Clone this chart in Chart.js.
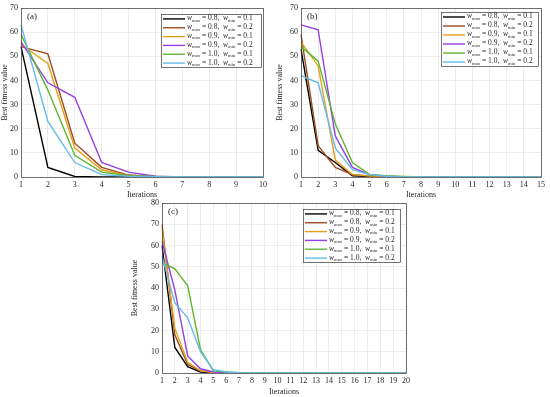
<!DOCTYPE html>
<html><head><meta charset="utf-8">
<script src="https://cdn.jsdelivr.net/npm/chart.js@4.4.0/dist/chart.umd.min.js"></script>
<style>
html,body{margin:0;padding:0;background:#fff;width:550px;height:397px;overflow:hidden}
.p{position:absolute}
canvas{display:block}
</style></head><body>
<div class="p" style="left:0;top:0"><canvas id="ca" width="275" height="200"></canvas></div>
<div class="p" style="left:275px;top:0"><canvas id="cb" width="275" height="200"></canvas></div>
<div class="p" style="left:130px;top:195px"><canvas id="cc" width="290" height="202"></canvas></div>
<script>
// ---- data ----
const wMax = [0.8, 0.8, 0.9, 0.9, 1.0, 1.0];
const wMin = [0.1, 0.2, 0.1, 0.2, 0.1, 0.2];
const seriesColors = ['#000000', '#9C4A1E', '#E3A11B', '#9440E4', '#5DB530', '#66B9EA'];

const iterA = ['1','2','3','4','5','6','7','8','9','10'];
const iterB = ['1','2','3','4','5','6','7','8','9','10','11','12','13','14','15'];
const iterC = ['1','2','3','4','5','6','7','8','9','10','11','12','13','14','15','16','17','18','19','20'];

const yTicksAB = [0, 10, 20, 30, 40, 50, 60, 70];
const yTicksC = [0, 10, 20, 30, 40, 50, 60, 70, 80];

// (a)
const a_08_01 = [54, 4, 0.2, 0, 0, 0, 0, 0, 0, 0];
const a_08_02 = [54, 51, 14, 4, 0.8, 0.2, 0, 0, 0, 0];
const a_09_01 = [55, 47, 12, 3, 0.5, 0.1, 0, 0, 0, 0];
const a_09_02 = [56, 39, 33, 6, 2, 0.3, 0, 0, 0, 0];
const a_10_01 = [59, 36, 9, 2, 0.5, 0.2, 0, 0, 0, 0];
const a_10_02 = [63, 23, 6, 1, 0.3, 0.1, 0, 0, 0, 0];
// (b)
const b_08_01 = [53, 11, 6, 0.5, 0.2, 0, 0, 0, 0, 0, 0, 0, 0, 0, 0];
const b_08_02 = [59, 13, 4, 1, 0.3, 0.1, 0, 0, 0, 0, 0, 0, 0, 0, 0];
const b_09_01 = [56, 46, 7, 1, 0.5, 0.2, 0, 0, 0, 0, 0, 0, 0, 0, 0];
const b_09_02 = [63, 61, 17, 4, 1, 0.3, 0, 0, 0, 0, 0, 0, 0, 0, 0];
const b_10_01 = [54, 48, 22, 6, 1, 0.5, 0.2, 0, 0, 0, 0, 0, 0, 0, 0];
const b_10_02 = [42, 39, 12, 3, 1, 0.3, 0, 0, 0, 0, 0, 0, 0, 0, 0];
// (c)
const c_08_01 = [60, 12, 3, 0.5, 0.1, 0, 0, 0, 0, 0, 0, 0, 0, 0, 0, 0, 0, 0, 0, 0];
const c_08_02 = [70, 18, 4, 1, 0.2, 0, 0, 0, 0, 0, 0, 0, 0, 0, 0, 0, 0, 0, 0, 0];
const c_09_01 = [68, 21, 5, 1, 0.3, 0, 0, 0, 0, 0, 0, 0, 0, 0, 0, 0, 0, 0, 0, 0];
const c_09_02 = [62, 39, 8, 2, 0.5, 0.1, 0, 0, 0, 0, 0, 0, 0, 0, 0, 0, 0, 0, 0, 0];
const c_10_01 = [52, 49, 41, 11, 1, 0.5, 0.1, 0, 0, 0, 0, 0, 0, 0, 0, 0, 0, 0, 0, 0];
const c_10_02 = [55, 33, 26, 10, 1.5, 0.5, 0.1, 0, 0, 0, 0, 0, 0, 0, 0, 0, 0, 0, 0, 0];

// ---- drawing ----
const SERIF = '"Liberation Serif", "DejaVu Serif", serif';
const TXT = '#262626';

function drawLegendLabel(ctx, x, y, vmax, vmin, fs) {
  const parts = [
    ['italic ' + fs + 'px ' + SERIF, 'w', 0],
    [(fs * 0.62).toFixed(1) + 'px ' + SERIF, 'max', fs * 0.28],
    [fs + 'px ' + SERIF, ' = ' + vmax.toFixed(1) + ',  ', 0],
    ['italic ' + fs + 'px ' + SERIF, 'w', 0],
    [(fs * 0.62).toFixed(1) + 'px ' + SERIF, 'min', fs * 0.28],
    [fs + 'px ' + SERIF, ' = ' + vmin.toFixed(1), 0]
  ];
  for (const [f, t, dy] of parts) {
    ctx.font = f;
    ctx.fillText(t, x, y + dy);
    x += ctx.measureText(t).width;
  }
}

const framePlugin = {
  id: 'frame',
  afterDraw(chart, args, o) {
    const ctx = chart.ctx, a = chart.chartArea;
    ctx.save();
    ctx.strokeStyle = '#3a3a3a';
    ctx.lineWidth = 0.7;
    ctx.strokeRect(Math.round(a.left) + 0.5, Math.round(a.top) + 0.5, Math.round(a.right - a.left), Math.round(a.bottom - a.top));
    // panel tag
    ctx.fillStyle = TXT;
    ctx.font = '9px ' + SERIF;
    ctx.textBaseline = 'middle';
    ctx.textAlign = 'left';
    ctx.fillText(o.tag, a.left + o.tagDx, a.top + 8.5);
    // legend
    const L = a.right + o.lgRight - o.lgW, T = a.top + o.lgTop;
    const H = o.lgH, rows = wMax.length, rh = H / rows;
    ctx.fillStyle = '#ffffff';
    ctx.fillRect(L, T, o.lgW, H);
    ctx.strokeStyle = '#3a3a3a';
    ctx.lineWidth = 0.7;
    ctx.strokeRect(Math.round(L) + 0.5, Math.round(T) + 0.5, Math.round(o.lgW), Math.round(H));
    for (let i = 0; i < rows; i++) {
      const yy = T + rh * (i + 0.5) + 0.5;
      ctx.strokeStyle = seriesColors[i];
      ctx.lineWidth = 1.4;
      ctx.beginPath();
      ctx.moveTo(L + 2, yy);
      ctx.lineTo(L + 24, yy);
      ctx.stroke();
      ctx.fillStyle = TXT;
      ctx.textBaseline = 'middle';
      drawLegendLabel(ctx, L + 26, yy - 0.5, wMax[i], wMin[i], o.lgFs);
    }
    ctx.restore();
  }
};

function makeChart(id, labels, series, yTicks, cfg) {
  const font = { family: SERIF, size: 8 };
  new Chart(document.getElementById(id), {
    type: 'line',
    data: {
      labels: labels,
      datasets: series.map((d, i) => ({
        label: 'w_max = ' + wMax[i] + ', w_min = ' + wMin[i],
        data: d,
        borderColor: seriesColors[i],
        backgroundColor: seriesColors[i],
        borderWidth: 1.4,
        pointRadius: 0,
        tension: 0,
        fill: false,
        order: series.length - 1 - i
      }))
    },
    options: {
      responsive: false,
      animation: false,
      events: [],
      layout: { padding: { left: 0, right: cfg.padR, top: cfg.padT, bottom: 0 } },
      plugins: {
        legend: { display: false },
        tooltip: { enabled: false },
        frame: cfg.frame
      },
      scales: {
        x: {
          type: 'category',
          offset: false,
          grid: { color: '#e4e4e4', lineWidth: 0.7, drawTicks: false },
          border: { display: false },
          ticks: { font: font, color: TXT, padding: 3, maxRotation: 0, autoSkip: false },
          title: { display: true, text: 'Iterations', font: font, color: TXT, padding: { top: 0, bottom: 0 } },
          afterFit(s) { s.height = cfg.xH; }
        },
        y: {
          min: yTicks[0],
          max: yTicks[yTicks.length - 1],
          afterBuildTicks(s) { s.ticks = yTicks.map(v => ({ value: v })); },
          grid: { color: '#e4e4e4', lineWidth: 0.7, drawTicks: false },
          border: { display: false },
          ticks: { font: font, color: TXT, padding: 3 },
          title: { display: true, text: 'Best fitness value', font: font, color: TXT, padding: { top: 0, bottom: cfg.yTitlePad } },
          afterFit(s) { s.width = cfg.yW; }
        }
      }
    },
    plugins: [framePlugin]
  });
}

makeChart('ca', iterA, [a_08_01, a_08_02, a_09_01, a_09_02, a_10_01, a_10_02], yTicksAB,
  { padR: 12, padT: 8, xH: 23, yW: 21, yTitlePad: 0,
    frame: { tag: '(a)', tagDx: 6, lgRight: -2, lgTop: 6, lgW: 100, lgH: 53, lgFs: 7.5 } });
makeChart('cb', iterB, [b_08_01, b_08_02, b_09_01, b_09_02, b_10_01, b_10_02], yTicksAB,
  { padR: 9, padT: 8, xH: 23, yW: 26, yTitlePad: 0,
    frame: { tag: '(b)', tagDx: 6, lgRight: -3, lgTop: 4, lgW: 97, lgH: 54, lgFs: 7.5 } });
makeChart('cc', iterC, [c_08_01, c_08_02, c_09_01, c_09_02, c_10_01, c_10_02], yTicksC,
  { padR: 14, padT: 8, xH: 24, yW: 32, yTitlePad: 0,
    frame: { tag: '(c)', tagDx: 6, lgRight: -6, lgTop: 6, lgW: 97, lgH: 53, lgFs: 7.5 } });
</script>
</body></html>
